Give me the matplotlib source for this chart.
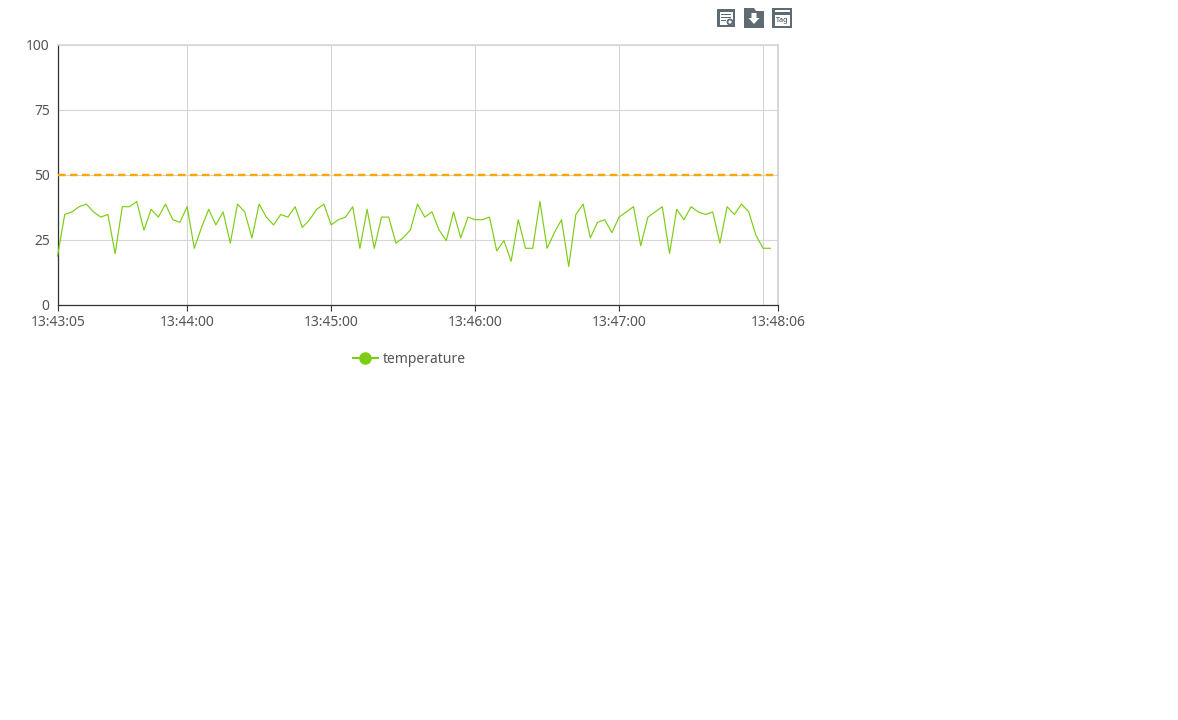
import datetime
import matplotlib
matplotlib.use("Agg")
import matplotlib.pyplot as plt
from matplotlib.lines import Line2D
from matplotlib.patches import Circle, Polygon, Rectangle
from matplotlib.transforms import ScaledTranslation

plt.rcParams["font.family"] = ["Noto Sans", "DejaVu Sans"]

temperature = [
    19, 35, 36, 38, 39, 36, 34, 35, 20, 38, 38, 40, 29, 37, 34, 39, 33, 32, 38, 22,
    30, 37, 31, 36, 24, 39, 36, 26, 39, 34, 31, 35, 34, 38, 30, 33, 37, 39, 31, 33,
    34, 38, 22, 37, 22, 34, 34, 24, 26, 29, 39, 34, 36, 29, 25, 36, 26, 34, 33, 33,
    34, 21, 25, 17, 33, 22, 22, 40, 22, 28, 33, 15, 35, 39, 26, 32, 33, 28, 34, 36,
    38, 23, 34, 36, 38, 20, 37, 33, 38, 36, 35, 36, 24, 38, 35, 39, 36, 27, 22, 22,
]
threshold = 50
first_sample = datetime.datetime(2020, 1, 1, 13, 43, 6)
start_time = datetime.datetime(2020, 1, 1, 13, 43, 6, 200000)
end_time = datetime.datetime(2020, 1, 1, 13, 48, 6, 200000)
sample_seconds = 3
times = [first_sample + datetime.timedelta(seconds=sample_seconds * i) for i in range(len(temperature))]

tick_times = [
    start_time,
    datetime.datetime(2020, 1, 1, 13, 44, 0),
    datetime.datetime(2020, 1, 1, 13, 45, 0),
    datetime.datetime(2020, 1, 1, 13, 46, 0),
    datetime.datetime(2020, 1, 1, 13, 47, 0),
    end_time,
]
tick_labels = ["13:43:05", "13:44:00", "13:45:00", "13:46:00", "13:47:00", "13:48:06"]
extra_grid_time = datetime.datetime(2020, 1, 1, 13, 48, 0)
y_ticks = [0, 25, 50, 75, 100]

GREEN = "#7ccd14"
ORANGE = "#ffa500"
GRID = "#d6d6d6"
TEXT = "#555555"
ICON = "#5f6b73"

W, H = 1178, 720
fig = plt.figure(figsize=(W / 100, H / 100), dpi=100)
ax = fig.add_axes([58 / W, 1 - 305.5 / H, 720 / W, 260 / H])

ax.plot(times, temperature, color=GREEN, linewidth=0.85, zorder=3, clip_on=False)
ax.plot([start_time, end_time], [threshold, threshold], color=ORANGE, linewidth=1.7,
        dashes=(3.2, 1.88), dash_capstyle="butt", zorder=4)

ax.set_xlim(start_time, end_time)
ax.set_ylim(0, 100)
ax.set_xticks(tick_times)
ax.set_xticklabels(tick_labels)
ax.set_yticks(y_ticks)
ax.grid(True, color=GRID, linewidth=0.8)
ax.axvline(extra_grid_time, color=GRID, linewidth=0.8)
ax.set_axisbelow(True)

ax.tick_params(axis="x", length=4, width=0.8, color="#333333", labelsize=10, labelcolor=TEXT, pad=3)
ax.tick_params(axis="y", length=0, labelsize=10, labelcolor=TEXT, pad=6)
# y labels sit one pixel higher in the original
for label in ax.get_yticklabels():
    label.set_transform(label.get_transform() + ScaledTranslation(0, 1 / 100, fig.dpi_scale_trans))
for side in ["left", "bottom"]:
    ax.spines[side].set_color("#333333")
    ax.spines[side].set_linewidth(0.9)
ax.spines["top"].set_color(GRID)
ax.spines["right"].set_color(GRID)
ax.spines["top"].set_linewidth(1.2)
ax.spines["right"].set_linewidth(1.4)

handle = Line2D([0], [0], color=GREEN, linewidth=1.5, marker="o", markersize=8)
fig.legend([handle], ["temperature"], loc="center", bbox_to_anchor=(409.5 / W, 1 - 359.5 / H),
           frameon=False, fontsize=10, labelcolor=TEXT, handlelength=1.8, handletextpad=0.4)

# toolbar icons, drawn in pixel coordinates
over = fig.add_axes([0, 0, 1, 1])
over.set_xlim(0, W)
over.set_ylim(H, 0)
over.axis("off")

over.add_patch(Rectangle((717, 9), 18, 18, color=ICON, linewidth=0))
over.add_patch(Rectangle((719.5, 11.5), 13.5, 13, color="white", linewidth=0))
for y, length in [(13.5, 10), (16.5, 10), (19.5, 5)]:
    over.add_patch(Rectangle((721, y), length, 1.8, color=ICON, linewidth=0))
over.add_patch(Circle((730, 22), 3.4, color=ICON, linewidth=0))
over.add_patch(Circle((730, 22), 1.6, color="white", linewidth=0))
over.add_patch(Polygon([(732, 24), (734, 24), (735, 26), (733, 26)], color=ICON, linewidth=0))

over.add_patch(Polygon([(744, 28), (744, 8), (754, 8), (756, 11), (764, 11), (764, 28)], color=ICON, linewidth=0))
over.add_patch(Polygon([(751.5, 13), (756.5, 13), (756.5, 18), (759.5, 18), (754, 24), (748.5, 18), (751.5, 18)],
                       color="white", linewidth=0))

over.add_patch(Rectangle((772, 8), 20, 20, color=ICON, linewidth=0))
over.add_patch(Rectangle((774.5, 10), 15, 16, color="white", linewidth=0))
over.add_patch(Rectangle((774.5, 12), 15, 2.5, color=ICON, linewidth=0))
over.text(782, 20, "Tag", fontsize=5.2, fontweight="bold", color="#333b40", ha="center", va="center")

fig.savefig("out.png", dpi=100)
